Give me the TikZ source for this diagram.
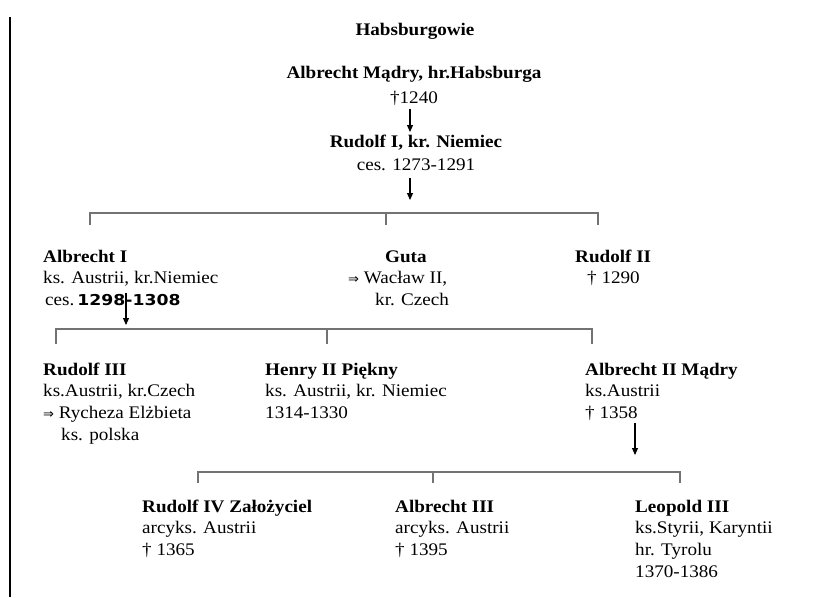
\documentclass[tikz,border=0pt]{standalone}
\usepackage{fontspec}
\setmainfont{Liberation Serif}[FakeStretch=1.08]
\newfontfamily\digfont{DejaVu Sans}[FakeStretch=1.15]
\newfontfamily\symfont{DejaVu Sans}
\usetikzlibrary{arrows.meta}
\newcommand\mar{{\symfont\fontsize{13}{13}\selectfont ⇒}}
\newcommand\bdig[1]{{\digfont\bfseries\fontsize{15}{15}\selectfont #1}}
\tikzset{
  person/.style={anchor=north west, inner sep=0pt, align=left,
    font=\fontsize{17.7}{21.6}\selectfont},
  cperson/.style={person, anchor=north, align=center},
  brk/.style={draw=black!55, line width=1.6pt},
  arr/.style={draw=black, line width=1.1pt, -{Triangle[length=7pt,width=6pt]}},
}
\begin{document}
\begin{tikzpicture}[x=1pt,y=-1pt]
\fill[white] (0,0) rectangle (816,597);
\useasboundingbox (0,0) rectangle (816,597);
\draw[line width=2pt] (9.5,17) -- (9.5,597);

% top
\node[cperson] (title) at (415,20) {\strut\textbf{Habsburgowie}};
\node[cperson] (amadry) at (414,63) {\strut\textbf{Albrecht Mądry, hr.Habsburga}\\[3.4pt] †1240};
\node[cperson] (rudolf1) at (416,132) {\strut\textbf{Rudolf I, kr. Niemiec}\\[1.4pt] ces. 1273-1291};
\coordinate (ax) at (410,0);
\draw[arr, shorten <=3pt] (amadry.south -| ax) -- (rudolf1.north -| ax);

% bracket 1
\coordinate (b1l) at (90,213);
\coordinate (b1m) at (386,213);
\coordinate (b1r) at (598,213);
\draw[arr, shorten <=7pt] (rudolf1.south -| ax) -- ([yshift=13pt]b1m -| ax);
\draw[brk] ([yshift=-12pt]b1l) -- (b1l) -- (b1r) -- ([yshift=-12pt]b1r);
\draw[brk] (b1m) -- ([yshift=-12pt]b1m);

% row 1
\node[person] (albrecht1) at (43,247) {\strut\textbf{Albrecht I}\\ ks. Austrii, kr.Niemiec\\ \hspace*{2pt}ces.\,\bdig{1298-1308}};
\node[person] (guta) at (348,247) {\strut\hspace*{37pt}\textbf{Guta}\\ \mar{} Wacław II,\\ \hspace*{27pt}kr. Czech};
\node[person] (rudolf2) at (575,247) {\strut\textbf{Rudolf II}\\ \hspace*{12pt}† 1290};
\coordinate (a3top) at (126,293);
\coordinate (a3tip) at (126,325);
\draw[arr] (a3top) -- (a3tip);

% bracket 2
\coordinate (b2l) at (56,329);
\coordinate (b2m) at (327,329);
\coordinate (b2r) at (592,329);
\draw[brk] ([yshift=-15pt]b2l) -- (b2l) -- (b2r) -- ([yshift=-15pt]b2r);
\draw[brk] (b2m) -- ([yshift=-15pt]b2m);

% row 2
\node[person] (rudolf3) at (43,360) {\strut\textbf{Rudolf III}\\ ks.Austrii, kr.Czech\\ \mar{} Rycheza Elżbieta\\ \hspace*{18pt}ks. polska};
\node[person] (henry) at (265,360) {\strut\textbf{Henry II Piękny}\\ ks. Austrii, kr. Niemiec\\ 1314-1330};
\node[person] (albrecht2) at (585,360) {\strut\textbf{Albrecht II Mądry}\\ ks.Austrii\\ † 1358};
\coordinate (a4x) at (635,0);
\coordinate (a4tip) at (635,455);
\draw[arr, shorten <=2pt] (albrecht2.south -| a4x) -- (a4tip);

% bracket 3
\coordinate (b3l) at (198,472);
\coordinate (b3m) at (433,472);
\coordinate (b3r) at (680,472);
\draw[brk] ([yshift=-11pt]b3l) -- (b3l) -- (b3r) -- ([yshift=-11pt]b3r);
\draw[brk] (b3m) -- ([yshift=-11pt]b3m);

% row 3
\node[person] (rudolf4) at (142,497) {\strut\textbf{Rudolf IV Założyciel}\\ arcyks. Austrii\\ † 1365};
\node[person] (albrecht3) at (395,497) {\strut\textbf{Albrecht III}\\ arcyks. Austrii\\ † 1395};
\node[person] (leopold) at (635,497) {\strut\textbf{Leopold III}\\ ks.Styrii, Karyntii\\ hr. Tyrolu\\ 1370-1386};
\end{tikzpicture}
\end{document}
